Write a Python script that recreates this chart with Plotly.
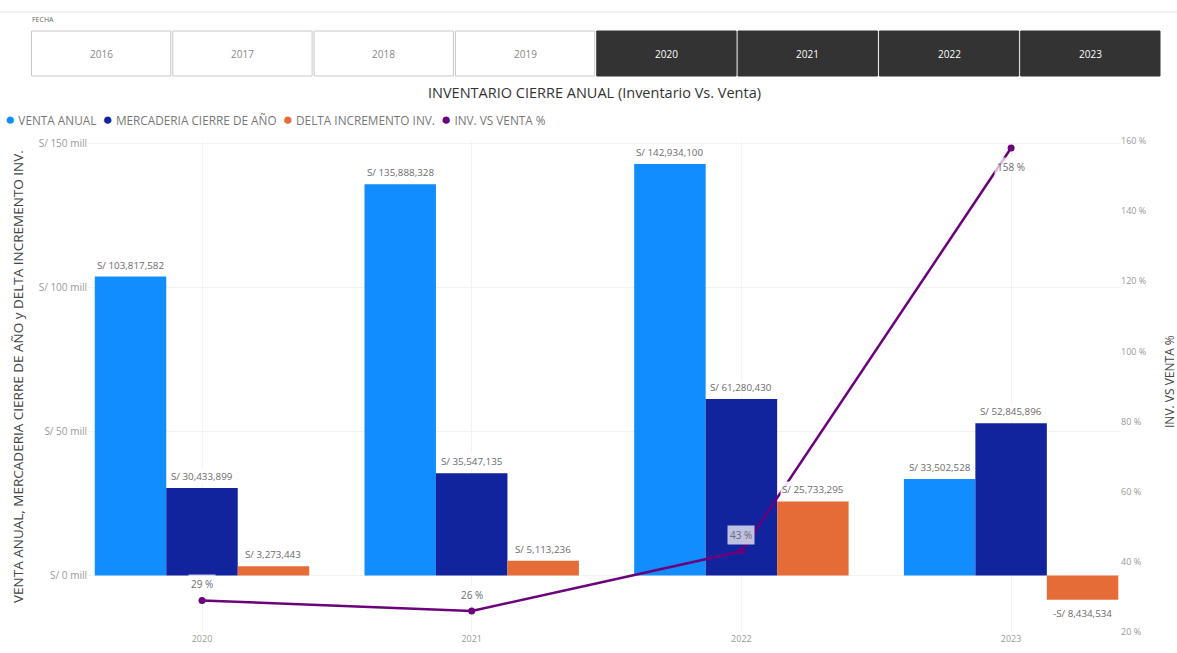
import plotly.graph_objects as go

# ---- data ----
YEARS = ["2020", "2021", "2022", "2023"]
VENTA_ANUAL = [103817582, 135888328, 142934100, 33502528]
MERCADERIA_CIERRE = [30433899, 35547135, 61280430, 52845896]
DELTA_INCREMENTO = [3273443, 5113236, 25733295, -8434534]
INV_VS_VENTA_PCT = [29, 26, 43, 158]

SLICER_YEARS = ["2016", "2017", "2018", "2019", "2020", "2021", "2022", "2023"]
SELECTED_YEARS = ["2020", "2021", "2022", "2023"]

LEFT_TICKS = [0, 50_000_000, 100_000_000, 150_000_000]
LEFT_TICK_TEXT = ["S/ 0 mill", "S/ 50 mill", "S/ 100 mill", "S/ 150 mill"]
RIGHT_TICKS = [20, 40, 60, 80, 100, 120, 140, 160]
RIGHT_TICK_TEXT = [f"{v} %" for v in RIGHT_TICKS]

SERIES_NAMES = ["VENTA ANUAL", "MERCADERIA CIERRE DE AÑO", "DELTA INCREMENTO INV.", "INV. VS VENTA %"]
COLORS = ["#118DFF", "#12239E", "#E66C37", "#6B007B"]
LEFT_TITLE = "VENTA ANUAL, MERCADERIA CIERRE DE AÑO y DELTA INCREMENTO INV."
RIGHT_TITLE = "INV. VS VENTA %"
CHART_TITLE = "INVENTARIO CIERRE ANUAL (Inventario Vs. Venta)"

# ---- page geometry (pixels) ----
W, H = 1177, 653
PL, PR, PT, PB = 88, 1120, 141, 632
FONT = "Open Sans"


def px_x(px):
    return (px - PL) / (PR - PL)


def px_y(py):
    return (PB - py) / (PB - PT)


def money(v):
    return f"-S/ {abs(v):,}" if v < 0 else f"S/ {v:,}"


x_pos = list(range(len(YEARS)))
BARGAP = 0.205
bar_w = (1 - BARGAP) / 3

fig = go.Figure()
for name, vals, color in zip(SERIES_NAMES[:3], [VENTA_ANUAL, MERCADERIA_CIERRE, DELTA_INCREMENTO], COLORS[:3]):
    fig.add_trace(go.Bar(x=x_pos, y=vals, name=name, marker=dict(color=color, line=dict(width=0)),
                         showlegend=False, hoverinfo="skip"))

fig.add_trace(go.Scatter(x=x_pos, y=INV_VS_VENTA_PCT, name=SERIES_NAMES[3], yaxis="y2",
                         mode="lines+markers", line=dict(color=COLORS[3], width=2.5),
                         marker=dict(size=7, color=COLORS[3]), showlegend=False, hoverinfo="skip"))

annotations = []
shapes = []

# bar value labels
for k, vals in enumerate([VENTA_ANUAL, MERCADERIA_CIERRE, DELTA_INCREMENTO]):
    offset = (k - 1) * bar_w
    for i, v in enumerate(vals):
        annotations.append(dict(
            x=x_pos[i] + offset, y=v, xref="x", yref="y", text=money(v), showarrow=False,
            yanchor="bottom" if v >= 0 else "top", yshift=3 if v >= 0 else -5,
            font=dict(family=FONT, size=9.8, color="#6b6b6b"),
            bgcolor="rgba(255,255,255,0.88)", borderpad=1))

# line value labels
for i, p in enumerate(INV_VS_VENTA_PCT):
    above = i < len(INV_VS_VENTA_PCT) - 1
    annotations.append(dict(
        x=x_pos[i], y=p, xref="x", yref="y2", text=f"{p} %", showarrow=False,
        yanchor="bottom" if above else "top", yshift=6 if above else -9,
        font=dict(family=FONT, size=10, color="#6b6b6b"),
        bgcolor="rgba(255,255,255,0.72)", borderpad=2))

# chart title
annotations.append(dict(x=px_x(594), y=px_y(92), xref="paper", yref="paper",
                        text=CHART_TITLE, showarrow=False, xanchor="center", yanchor="middle",
                        font=dict(family=FONT, size=14.5, color="#333333")))

# axis titles
annotations.append(dict(x=px_x(18), y=px_y(377), xref="paper", yref="paper", text=LEFT_TITLE,
                        showarrow=False, textangle=-90, xanchor="center", yanchor="middle",
                        font=dict(family=FONT, size=13.5, color="#444444")))
annotations.append(dict(x=px_x(1169), y=px_y(382), xref="paper", yref="paper", text=RIGHT_TITLE,
                        showarrow=False, textangle=-90, xanchor="center", yanchor="middle",
                        font=dict(family=FONT, size=12, color="#444444")))

# legend
legend_text = "  ".join(
    f"<span style='color:{c};font-size:17px'>●</span> {n}" for n, c in zip(SERIES_NAMES, COLORS))
annotations.append(dict(x=px_x(3), y=px_y(119), xref="paper", yref="paper", text=legend_text,
                        showarrow=False, xanchor="left", yanchor="middle",
                        font=dict(family=FONT, size=11.8, color="#777777")))

# year slicer
annotations.append(dict(x=px_x(30), y=px_y(20), xref="paper", yref="paper", text="FECHA",
                        showarrow=False, xanchor="left", yanchor="middle",
                        font=dict(family=FONT, size=7, color="#666666")))
shapes.append(dict(type="line", xref="paper", yref="paper", x0=px_x(0), x1=px_x(W),
                   y0=px_y(12), y1=px_y(12), line=dict(color="#e8e8e8", width=1)))
btn_left, btn_right, btn_top, btn_bot = 30.5, 1161, 31, 76
btn_w = (btn_right - btn_left) / len(SLICER_YEARS)
for j, yr in enumerate(SLICER_YEARS):
    x0 = btn_left + j * btn_w
    x1 = x0 + btn_w
    sel = yr in SELECTED_YEARS
    shapes.append(dict(type="rect", xref="paper", yref="paper",
                       x0=px_x(x0 + 1), x1=px_x(x1 - 1), y0=px_y(btn_bot), y1=px_y(btn_top),
                       fillcolor="#333333" if sel else "#ffffff",
                       line=dict(color="#333333" if sel else "#c8c8c8", width=1)))
    annotations.append(dict(x=px_x((x0 + x1) / 2), y=px_y((btn_top + btn_bot) / 2),
                            xref="paper", yref="paper", text=yr, showarrow=False,
                            xanchor="center", yanchor="middle",
                            font=dict(family=FONT, size=10, color="#ffffff" if sel else "#888888")))

fig.update_layout(
    width=W, height=H,
    margin=dict(l=PL, r=W - PR, t=PT, b=H - PB, autoexpand=False),
    paper_bgcolor="white", plot_bgcolor="white",
    barmode="group", bargap=BARGAP, bargroupgap=0,
    font=dict(family=FONT, color="#999999"),
    showlegend=False,
    xaxis=dict(range=[(PL - 202) / 269.7, (PR - 202) / 269.7], tickvals=x_pos, ticktext=YEARS,
               showgrid=True, gridcolor="#f2f2f2", zeroline=False, showline=False, ticks="",
               tickfont=dict(size=9, color="#999999")),
    yaxis=dict(range=[-19.6e6, 150.9e6], tickvals=LEFT_TICKS, ticktext=LEFT_TICK_TEXT,
               showgrid=True, gridcolor="#f2f2f2", zeroline=False, showline=False, ticks="",
               tickfont=dict(size=10, color="#999999")),
    yaxis2=dict(overlaying="y", side="right", range=[20, 160], tickvals=RIGHT_TICKS,
                ticktext=RIGHT_TICK_TEXT, showgrid=False, zeroline=False, showline=False, ticks="",
                tickfont=dict(size=9, color="#999999")),
    annotations=annotations,
    shapes=shapes,
)

fig.write_html("out.html")
